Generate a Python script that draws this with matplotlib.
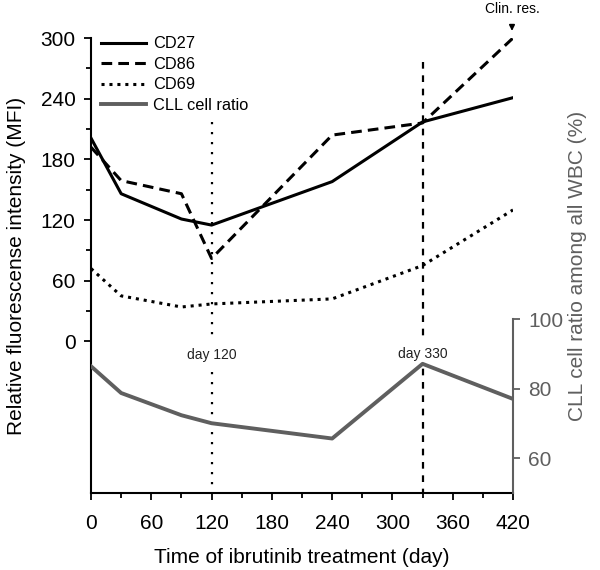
import matplotlib
matplotlib.use("Agg")
import matplotlib.pyplot as plt
from matplotlib.ticker import MultipleLocator

plt.rcParams['font.family'] = ['Liberation Sans', 'DejaVu Sans']

# data
days = [0, 30, 90, 120, 240, 330, 420]
cd27 = [201, 146, 121, 115, 158, 217, 241]
cd86 = [192, 159, 146, 82, 204, 216, 300]
cd69 = [72, 45, 34, 37, 42, 75, 130]
cll_ratio = [86.5, 78.8, 72.4, 70.1, 65.7, 87.2, 77.1]

x_ticks = [0, 60, 120, 180, 240, 300, 360, 420]
left_ticks = [0, 60, 120, 180, 240, 300]
right_ticks = [60, 80, 100]

grey = '#5f5f5f'
fs = 15

fig = plt.figure(figsize=(6, 5.7), dpi=100)
ax = fig.add_axes([0.1517, 0.135, 0.7033, 0.7983])
ax2 = ax.twinx()

l1, = ax.plot(days, cd27, color='black', lw=2.2, ls='-', label='CD27')
l2, = ax.plot(days, cd86, color='black', lw=2.2, ls=(0, (3.5, 2)), label='CD86')
l3, = ax.plot(days, cd69, color='black', lw=2.2, ls=(0, (1, 1.6)), label='CD69')
l4, = ax2.plot(days, cll_ratio, color=grey, lw=2.8, label='CLL cell ratio')

# event markers
ax.plot([120, 120], [217, -146], color='black', lw=1.6, ls=(0, (1, 3.5)))
ax.plot([330, 330], [276, -150], color='black', lw=1.6, ls=(0, (3, 3)))
ax.text(120, -13, 'day 120', ha='center', va='center', fontsize=10,
        color='#222222', backgroundcolor='white', zorder=5)
ax.text(330, -12, 'day 330', ha='center', va='center', fontsize=10,
        color='#222222', backgroundcolor='white', zorder=5)
ax.annotate('Clin. res.', xy=(419, 307), xytext=(419, 329),
            ha='center', va='center', fontsize=10, annotation_clip=False,
            arrowprops=dict(arrowstyle='-|>', color='black', lw=1.2,
                            mutation_scale=8, shrinkA=6, shrinkB=0))

ax.set_xlim(0, 420)
ax.set_ylim(-150, 300)
ax.set_xticks(x_ticks)
ax.xaxis.set_minor_locator(MultipleLocator(30))
ax.set_yticks(left_ticks)
ax.set_yticks(range(30, 300, 60), minor=True)
ax.spines['top'].set_visible(False)
ax.spines['right'].set_visible(False)
for s in ['left', 'bottom']:
    ax.spines[s].set_linewidth(1.5)
ax.tick_params(axis='both', which='major', direction='out', length=5, width=1.3,
               labelsize=fs)
ax.tick_params(axis='both', which='minor', direction='out', length=3.5, width=1.3)
ax.tick_params(axis='x', pad=10)
ax.tick_params(axis='y', pad=6)
ax.set_xlabel('Time of ibrutinib treatment (day)', fontsize=fs)
ax.xaxis.set_label_coords(0.5, -0.121)
ax.set_ylabel('Relative fluorescense intensity (MFI)', fontsize=fs)
ax.yaxis.set_label_coords(-0.154, 0.5)

ax2.set_ylim(50, 181)
ax2.set_yticks(right_ticks)
ax2.spines['top'].set_visible(False)
ax2.spines['left'].set_visible(False)
ax2.spines['bottom'].set_visible(False)
ax2.spines['right'].set_bounds(50, 100)
ax2.spines['right'].set_color(grey)
ax2.spines['right'].set_linewidth(1.5)
ax2.tick_params(axis='y', direction='out', length=5, width=1.3, colors=grey,
                labelsize=fs, pad=6)
ax2.set_ylabel('CLL cell ratio among all WBC (%)', fontsize=fs, color=grey,
               rotation=90)
ax2.yaxis.set_label_coords(1.13, 0.5)

leg = ax.legend(handles=[l1, l2, l3, l4], loc='upper left',
                bbox_to_anchor=(0.0, 1.025), frameon=False, fontsize=11.8,
                handlelength=2.75, handletextpad=0.45, labelspacing=0.33,
                borderaxespad=0.2)

fig.savefig('out.png', dpi=100)
